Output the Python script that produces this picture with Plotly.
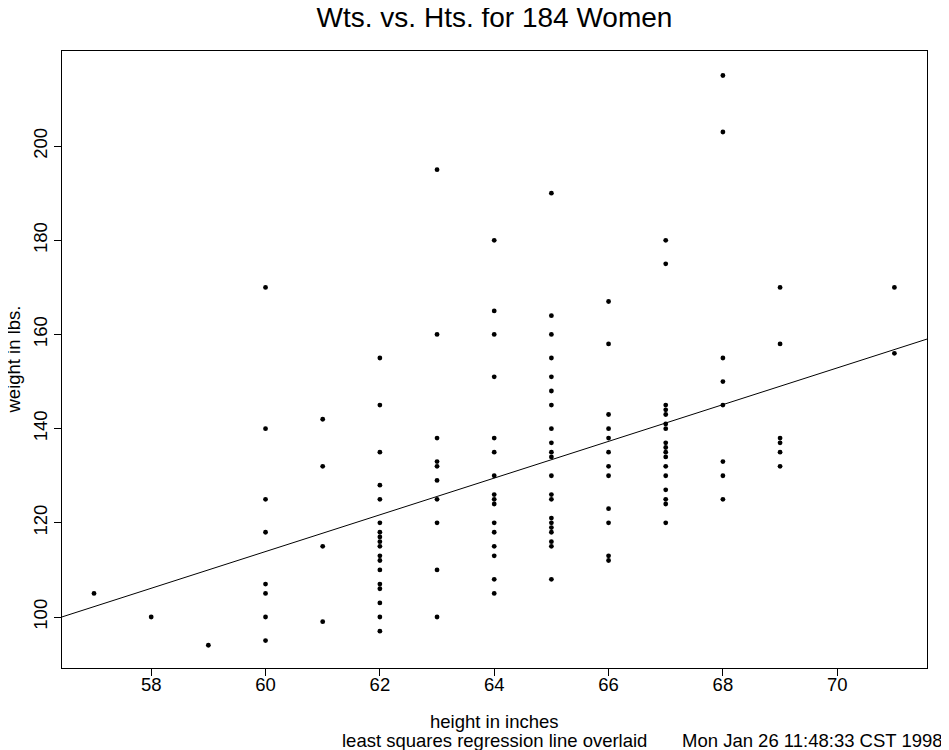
import plotly.graph_objects as go

# Distinct (height, weight) points
heights_57_61 = [57, 58, 59] + [60] * 8 + [61] * 4
weights_57_61 = [105, 100, 94,
                 170, 140, 125, 118, 107, 105, 100, 95,
                 142, 132, 115, 99]
w62 = [155, 145, 135, 128, 125, 120, 118, 117, 116, 115, 113, 112, 110, 107, 106, 103, 100, 97]
w63 = [195, 160, 138, 133, 132, 129, 125, 120, 110, 100]
w64 = [180, 165, 160, 151, 138, 135, 130, 126, 125, 124, 120, 118, 115, 113, 108, 105]
w65 = [190, 164, 160, 155, 151, 148, 145, 140, 137, 135, 134, 130, 126, 125, 121, 120, 119, 118, 116, 115, 108]
w66 = [167, 158, 143, 140, 138, 135, 132, 130, 123, 120, 113, 112]
w67 = [180, 175, 145, 144, 143, 141, 140, 137, 136, 135, 134, 132, 130, 127, 125, 124, 120]
w68 = [215, 203, 155, 150, 145, 133, 130, 125]
w69 = [170, 158, 138, 137, 135, 132]
w71 = [170, 156]

heights = list(heights_57_61)
weights = list(weights_57_61)
for h, ws in [(62, w62), (63, w63), (64, w64), (65, w65), (66, w66),
              (67, w67), (68, w68), (69, w69), (71, w71)]:
    heights += [h] * len(ws)
    weights += ws

# Least squares line
reg_intercept = -120.1
reg_slope = 3.90

x_range = [56.44, 71.57]
y_range = [89.17, 220.2]
x_ticks = [58, 60, 62, 64, 66, 68, 70]
y_ticks = [100, 120, 140, 160, 180, 200]

font_family = "Liberation Sans, Arial, Helvetica, sans-serif"
small = 18.5

# page body has an 8px margin; figure sized to fill the rest of the window
W, H = 941, 742

fig = go.Figure()
fig.add_trace(go.Scatter(
    x=heights, y=weights, mode="markers",
    marker=dict(color="black", size=4.8, line=dict(width=0)),
    showlegend=False, hoverinfo="x+y"))
fig.add_trace(go.Scatter(
    x=x_range, y=[reg_intercept + reg_slope * v for v in x_range],
    mode="lines", line=dict(color="black", width=1),
    showlegend=False, hoverinfo="skip"))

fig.update_layout(
    width=W, height=H,
    margin=dict(l=54, r=22, t=43, b=82),
    paper_bgcolor="white", plot_bgcolor="white",
    font=dict(family=font_family, color="black", size=small),
    title=dict(text="Wts. vs. Hts. for 184 Women", x=0.5, xanchor="center",
               xref="paper", y=1 - 9 / H, yanchor="middle",
               font=dict(size=28, family=font_family)),
    xaxis=dict(range=x_range, tickvals=x_ticks, ticks="outside", ticklen=7,
               tickcolor="black", showline=True, linecolor="black", linewidth=1,
               mirror=True, showgrid=False, zeroline=False, automargin=False,
               tickfont=dict(size=small), ticklabelstandoff=-7),
    yaxis=dict(range=y_range, tickvals=y_ticks, ticks="outside", ticklen=7,
               tickcolor="black", showline=True, linecolor="black", linewidth=1,
               mirror=True, showgrid=False, zeroline=False, tickangle=-90,
               automargin=False, tickfont=dict(size=small)),
)

fig.add_annotation(text="height in inches",
                   xref="paper", yref="paper", x=0.5, y=0, yshift=-53,
                   xanchor="center", yanchor="middle", showarrow=False,
                   font=dict(size=small))
fig.add_annotation(text="weight in lbs.", textangle=-90,
                   xref="paper", yref="paper", x=0, y=0.5, xshift=-49,
                   xanchor="center", yanchor="middle", showarrow=False,
                   font=dict(size=small))
fig.add_annotation(text="least squares regression line overlaid",
                   xref="paper", yref="paper", x=0.5, y=0, yshift=-72,
                   xanchor="center", yanchor="middle", showarrow=False,
                   font=dict(size=small))
fig.add_annotation(text="Mon Jan 26 11:48:33 CST 1998",
                   xref="paper", yref="paper", x=1, xshift=18, y=0, yshift=-72,
                   xanchor="right", yanchor="middle", showarrow=False,
                   font=dict(size=small))

fig.write_html("out.html")
